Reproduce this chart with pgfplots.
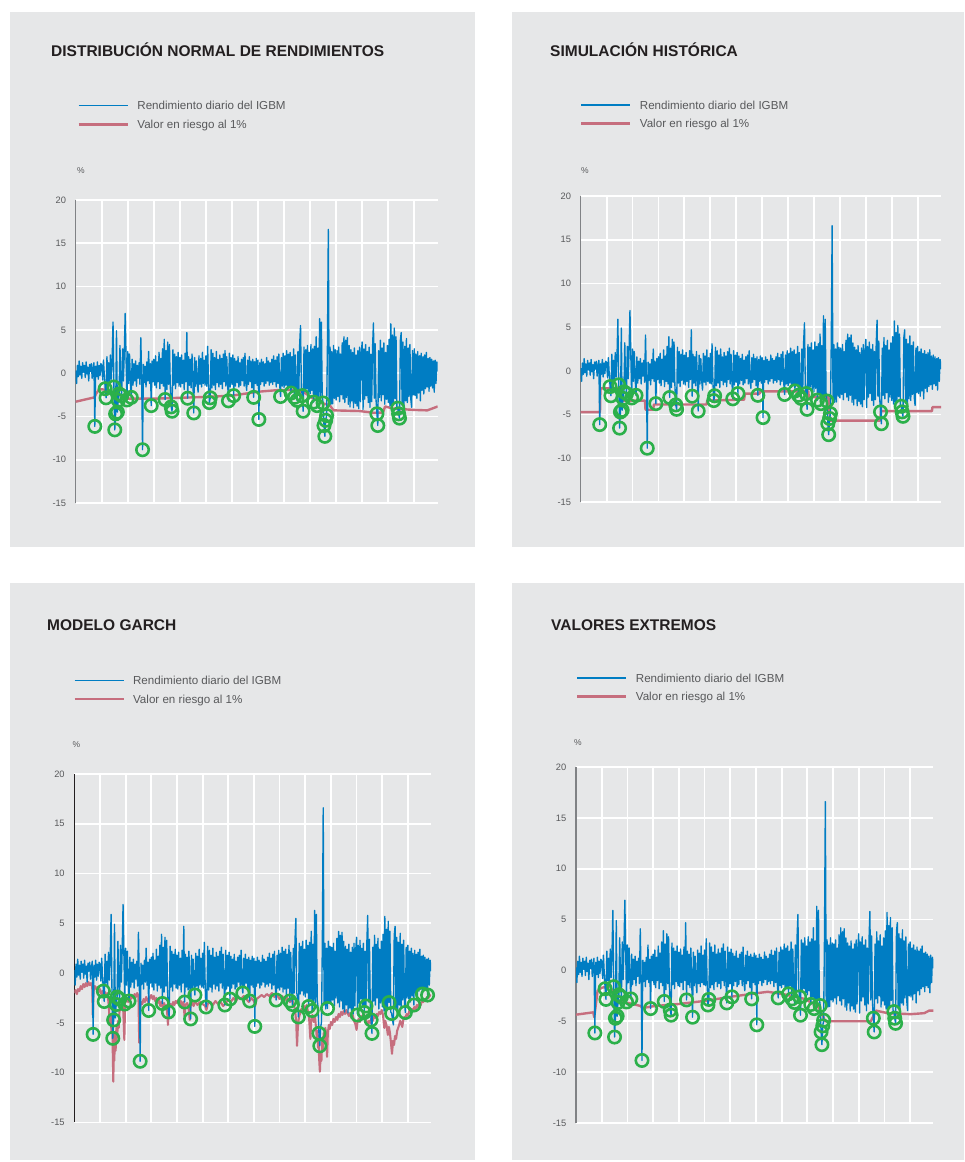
\documentclass[border=0pt]{standalone}
\usepackage{fontspec}
\setmainfont{Liberation Sans}
\usepackage{pgfplots}
\usepackage{pgfplotstable}
\pgfplotsset{compat=1.18}
\definecolor{bgpanel}{HTML}{E6E7E8}
\definecolor{ret}{RGB}{0,125,195}
\definecolor{varc}{RGB}{198,110,126}
\definecolor{exc}{RGB}{43,176,74}
\definecolor{titlec}{HTML}{231F20}
\definecolor{txtc}{HTML}{58595B}
\definecolor{axc}{HTML}{808285}

\pgfplotsset{
 panel/.style={
  scale only axis,
  xmin=0, xmax=13.9, ymin=-15, ymax=20,
  xtick={1,...,13}, xticklabels={},
  ytick={-15,-10,...,20},
  grid=major,
  major grid style={draw=white, line width=1.8pt},
  major tick length=0pt,
  axis y line*=left, axis x line*=bottom,
  x axis line style={draw=none},
  y axis line style={draw=axc, line width=1.5pt},
  yticklabel style={font=\fontsize{9.3}{11}\selectfont, text=txtc, inner sep=0pt, xshift=-9.5pt},
  /pgf/number format/assume math mode=true,
  title style={at={(rel axis cs:0,1)}, anchor=base west, inner sep=0pt, font=\fontsize{15.5}{18}\selectfont\bfseries, text=titlec},
  every axis y label/.style={at={(rel axis cs:0,1)}, anchor=center, font=\fontsize{8.5}{10}\selectfont, text=txtc},
  ylabel={\%},
  legend cell align=left,
  reverse legend,
  legend image code/.code={\draw[##1] (0pt,0pt) -- (49pt,0pt);},
  legend style={at={(rel axis cs:0,1)}, anchor=north west, draw=none, fill=none, inner sep=0pt, outer sep=0pt, row sep=10.3pt, font=\fontsize{11.6}{14}\selectfont, text=txtc, nodes={inner sep=0pt, text height=8.4pt, text depth=0pt}, /tikz/every odd column/.append style={column sep=8.5pt}},
 },
 retline/.style={ret, line width=1.35pt, line join=round, mark=none},
 excmarks/.style={only marks, mark=o, mark size=6.2pt, exc, mark options={line width=2.6pt}, forget plot},
}

\begin{document}
\pgfplotstableread[row sep=\\]{y\\
0.3\\ -1.2\\ 0.9\\ -0.4\\ 1.4\\ -0.2\\ 0.8\\ -0.6\\ 1.2\\ 0.1\\
0.9\\ -0.5\\ 1.3\\ -0.1\\ 0.7\\ -0.9\\ 1.0\\ 0.2\\ 1.1\\ -0.6\\
0.6\\ 1.2\\ -6.15\\ 0.8\\ -0.4\\ 1.3\\ -0.7\\ 0.9\\ -0.3\\ 1.1\\
0.9\\ -0.8\\ 1.5\\ -0.3\\ -1.8\\ -2.85\\ 1.9\\ -1.0\\ 1.2\\ -1.3\\
2.1\\ -0.7\\ 1.6\\ 5.9\\ -1.6\\ -6.55\\ -4.7\\ 4.9\\ -4.5\\ -3.15\\
-2.4\\ 3.2\\ -1.2\\ -2.6\\ 2.8\\ -0.9\\ 2.4\\ 6.9\\ 1.8\\ -3.1\\
2.5\\ -1.2\\ 2.2\\ -0.8\\ -2.8\\ 1.6\\ -1.4\\ 1.1\\ -0.9\\ 1.4\\
-1.5\\ 0.9\\ -0.6\\ 1.2\\ -1.3\\ 4.1\\ -0.7\\ -8.85\\ 1.0\\ -1.1\\
0.8\\ -1.6\\ 1.3\\ -0.9\\ 2.5\\ -1.2\\ 1.1\\ -3.75\\ 1.4\\ -1.0\\
1.6\\ -1.4\\ 2.0\\ -1.7\\ 1.3\\ -1.0\\ 2.4\\ -1.8\\ 1.7\\ -1.2\\
2.8\\ -1.5\\ 3.9\\ -3.05\\ 2.6\\ -1.9\\ 3.6\\ -1.3\\ 3.3\\ -1.6\\
-3.9\\ -4.4\\ 2.7\\ -1.4\\ 2.2\\ -1.8\\ 1.9\\ -1.1\\ 2.4\\ -1.5\\
1.8\\ -1.6\\ 2.1\\ -1.2\\ 1.5\\ -1.9\\ 2.3\\ -1.0\\ 4.7\\ -2.9\\
1.9\\ -1.4\\ 1.6\\ -1.7\\ 2.2\\ -0.9\\ -4.6\\ 1.8\\ -1.5\\ 1.4\\
-1.1\\ -2.2\\ 2.0\\ -1.3\\ 1.7\\ -1.6\\ 2.4\\ -1.2\\ 1.5\\ -1.4\\
2.0\\ -1.5\\ 3.1\\ -1.2\\ -3.4\\ -2.85\\ 2.7\\ -1.7\\ 2.3\\ -1.4\\
1.8\\ -1.9\\ 2.5\\ -1.1\\ 1.6\\ -1.6\\ 2.1\\ -1.3\\ 1.7\\ -1.8\\
2.2\\ -1.0\\ 2.6\\ -1.5\\ 1.9\\ -1.2\\ -3.2\\ 2.3\\ -1.6\\ 1.8\\
-1.3\\ 2.1\\ -2.6\\ 1.7\\ -1.5\\ 1.4\\ -1.1\\ 1.9\\ -1.6\\ 1.2\\
-1.4\\ 1.6\\ -0.9\\ 1.8\\ -1.5\\ 2.3\\ -1.2\\ -2.0\\ 1.5\\ -1.3\\
1.9\\ -1.0\\ 1.4\\ -1.7\\ 1.6\\ -2.8\\ 1.3\\ -1.2\\ 1.7\\ -1.4\\
1.5\\ -5.35\\ 1.2\\ -1.3\\ 1.6\\ -1.0\\ 1.3\\ -1.5\\ 1.1\\ -1.2\\
1.8\\ -0.9\\ 1.4\\ -1.4\\ 1.2\\ -1.1\\ 1.6\\ -1.3\\ 2.0\\ -1.0\\
1.5\\ -1.6\\ 1.9\\ -1.2\\ 2.2\\ -1.4\\ -2.7\\ 1.8\\ -1.5\\ 2.3\\
-1.7\\ 2.0\\ -1.4\\ 2.6\\ -1.9\\ 2.2\\ -1.6\\ 2.4\\ -2.3\\ 1.9\\
-1.5\\ 2.8\\ -2.8\\ 2.1\\ -1.8\\ -3.15\\ 2.5\\ -2.0\\ 3.3\\ 5.5\\
-1.9\\ -2.6\\ -4.4\\ 3.0\\ -2.1\\ 2.7\\ -1.8\\ 3.2\\ -2.2\\ 2.4\\
-2.4\\ 3.3\\ -2.0\\ 2.8\\ -3.35\\ 3.1\\ -2.6\\ 4.2\\ -3.75\\ 2.9\\
-2.8\\ 6.3\\ -3.0\\ 5.9\\ -2.7\\ -3.45\\ -6.05\\ -7.3\\ -5.45\\ -4.9\\
3.4\\ 16.6\\ -3.2\\ 3.0\\ -3.6\\ 2.5\\ -3.55\\ 3.2\\ -2.9\\ 2.7\\
-3.1\\ 2.6\\ -2.7\\ 3.0\\ -3.3\\ 2.2\\ -2.5\\ 3.5\\ -3.0\\ 4.2\\
-3.4\\ 3.8\\ -2.8\\ 4.1\\ -3.6\\ 3.2\\ -3.9\\ 2.7\\ -3.2\\ 2.4\\
-4.0\\ 2.9\\ -3.5\\ 2.1\\ -3.8\\ 2.6\\ -4.1\\ 3.0\\ -3.3\\ 2.3\\
3.6\\ -4.2\\ 2.8\\ -3.0\\ 3.3\\ -2.6\\ 2.5\\ -3.4\\ 3.0\\ -3.95\\
2.2\\ -3.3\\ 3.1\\ 5.8\\ -2.9\\ 3.4\\ -3.1\\ -4.7\\ -6.05\\ 2.6\\
-2.8\\ 3.8\\ -3.2\\ 2.9\\ -2.5\\ 3.5\\ -3.6\\ 2.4\\ -3.0\\ 3.2\\
-3.4\\ 3.9\\ -3.8\\ 5.7\\ -4.0\\ 4.4\\ -3.6\\ 5.2\\ -2.95\\ 4.2\\
-3.9\\ -4.05\\ -4.7\\ -5.2\\ 3.8\\ 4.7\\ -3.7\\ 3.6\\ -4.0\\ 3.1\\
-3.2\\ 4.0\\ -3.4\\ 2.9\\ -2.7\\ 3.3\\ -3.0\\ -3.95\\ 2.6\\ -2.5\\
2.8\\ -2.6\\ 2.2\\ -2.9\\ 2.5\\ -2.3\\ 2.0\\ -3.2\\ 2.3\\ -2.0\\
1.9\\ -2.4\\ 2.1\\ -1.8\\ 2.4\\ -1.6\\ 1.7\\ -2.1\\ 1.8\\ -1.5\\
1.6\\ -1.7\\ 1.4\\ -2.2\\ 1.5\\ -1.2\\ 1.3\\ 0.2\\
}\rettab

\pgfplotstableread{
i y
22 -6.15
34 -1.8
35 -2.85
44 -1.6
45 -6.55
46 -4.7
48 -4.5
49 -3.15
50 -2.4
53 -2.6
59 -3.1
64 -2.8
77 -8.85
87 -3.75
103 -3.05
110 -3.9
111 -4.4
129 -2.9
136 -4.6
154 -3.4
155 -2.85
176 -3.2
182 -2.6
205 -2.8
211 -5.35
236 -2.7
248 -2.3
252 -2.8
255 -3.15
261 -2.6
262 -4.4
274 -3.35
278 -3.75
285 -3.45
286 -6.05
287 -7.3
288 -5.45
289 -4.9
347 -4.7
348 -6.05
371 -4.05
372 -4.7
373 -5.2
}\exctab

\pgfplotstableread{
i y
22 -6.15
34 -1.8
35 -2.85
45 -6.55
46 -4.7
49 -3.15
50 -2.4
53 -2.6
59 -3.1
64 -2.8
77 -8.85
87 -3.75
103 -3.05
110 -3.9
129 -2.9
136 -4.6
141 -2.2
154 -3.4
176 -3.2
182 -2.6
197 -2.0
205 -2.8
211 -5.35
236 -2.7
252 -2.8
255 -3.15
262 -4.4
274 -3.35
278 -3.75
286 -6.05
287 -7.3
296 -3.55
331 -4.2
339 -3.95
341 -3.3
347 -4.7
348 -6.05
368 -2.95
371 -4.05
387 -3.95
397 -3.2
407 -2.1
413 -2.2
}\excgarch

\pgfplotstableread{
x y
0 -3.3
0.72 -2.8
0.78 -2.4
0.9 -1.85
1.1 -1.9
1.5 -2.3
2.0 -2.95
3.0 -2.95
4.0 -2.85
5.0 -2.75
6.0 -2.6
7.0 -2.15
7.8 -1.95
8.4 -1.95
8.8 -2.3
9.1 -2.9
9.5 -3.5
9.75 -3.7
9.9 -4.3
10.9 -4.38
11.45 -4.58
11.8 -4.55
11.88 -3.85
12.2 -4.1
13.0 -4.25
13.5 -4.3
13.9 -3.85
}\varnormal

\pgfplotstableread{
x y
0 -4.72
0.745 -4.72
0.76 -2.0
1.52 -2.0
1.55 -3.4
2.48 -3.4
2.5 -4.45
2.8 -4.45
2.82 -3.85
4.86 -3.85
4.88 -3.4
6.3 -3.3
6.34 -2.6
6.9 -2.6
6.92 -2.35
8.78 -2.35
8.8 -3.0
9.56 -3.0
9.62 -5.69
11.56 -5.69
11.58 -4.6
13.55 -4.6
13.57 -4.15
13.9 -4.15
}\varhist

\pgfplotstableread{
x y
0 -4.35
0.67 -4.12
0.71 -4.6
0.84 -2.0
1.0 -1.7
1.32 -1.55
1.58 -3.0
2.03 -3.2
2.52 -3.5
2.57 -3.7
3.07 -3.5
4.0 -3.3
5.0 -3.0
6.0 -2.6
7.0 -2.25
7.46 -2.1
8.1 -2.35
8.89 -2.8
9.4 -3.5
9.6 -4.45
9.69 -5.0
11.47 -5.0
11.67 -3.95
12.12 -4.2
13.03 -4.3
13.55 -4.2
13.74 -3.95
13.9 -3.95
}\varext

\pgfplotstableread{
x y
0.00 -2.0
0.05 -1.7
0.10 -2.1
0.15 -1.6
0.20 -1.8
0.25 -1.3
0.30 -1.6
0.35 -1.1
0.40 -1.4
0.45 -1.0
0.50 -1.3
0.55 -0.9
0.60 -1.2
0.65 -1.0
0.70 -1.4
0.72 -4.2
0.75 -1.8
0.80 -1.3
0.85 -1.6
0.90 -1.4
0.95 -1.9
1.00 -1.6
1.05 -2.1
1.10 -1.8
1.15 -2.3
1.20 -1.9
1.25 -2.4
1.30 -2.0
1.35 -3.5
1.38 -5.0
1.42 -4.2
1.45 -6.0
1.48 -5.0
1.50 -8.0
1.52 -10.9
1.54 -7.5
1.56 -8.8
1.58 -6.0
1.61 -7.8
1.64 -5.5
1.67 -6.5
1.70 -4.8
1.73 -5.5
1.76 -3.9
1.80 -3.4
1.85 -2.9
1.90 -3.2
1.95 -6.7
1.98 -3.0
2.05 -2.6
2.10 -2.9
2.15 -2.3
2.20 -2.6
2.25 -2.2
2.30 -2.5
2.35 -2.1
2.40 -2.4
2.45 -2.0
2.50 -2.3
2.53 -7.0
2.56 -3.5
2.60 -2.9
2.65 -3.1
2.70 -2.6
2.75 -2.9
2.80 -2.4
2.85 -2.7
2.90 -3.0
2.95 -2.4
3.00 -2.2
3.05 -2.6
3.10 -2.3
3.15 -2.8
3.20 -2.5
3.25 -3.0
3.30 -2.6
3.35 -3.3
3.40 -2.9
3.45 -3.5
3.50 -3.0
3.55 -3.6
3.60 -3.2
3.65 -5.2
3.68 -3.6
3.75 -3.1
3.80 -3.4
3.85 -2.9
3.90 -3.2
3.95 -2.8
4.00 -3.0
4.05 -2.7
4.10 -3.1
4.15 -2.8
4.20 -3.3
4.25 -2.9
4.30 -4.4
4.33 -3.2
4.40 -3.0
4.45 -3.4
4.50 -4.7
4.53 -3.3
4.60 -3.0
4.65 -3.3
4.70 -2.8
4.80 -3.2
4.90 -2.9
5.00 -3.1
5.10 -3.3
5.15 -3.7
5.20 -3.1
5.30 -2.9
5.40 -3.2
5.50 -2.8
5.60 -3.1
5.70 -2.9
5.80 -3.3
5.90 -3.0
6.00 -2.7
6.10 -2.9
6.20 -2.5
6.30 -2.8
6.40 -2.4
6.50 -2.6
6.60 -2.3
6.70 -2.6
6.80 -2.9
6.90 -2.5
7.00 -2.8
7.05 -3.3
7.10 -2.6
7.20 -2.4
7.30 -2.2
7.40 -2.4
7.50 -2.1
7.60 -2.3
7.70 -2.0
7.80 -2.4
7.90 -2.2
8.00 -2.6
8.10 -2.3
8.20 -2.7
8.30 -2.5
8.40 -2.9
8.50 -2.7
8.55 -3.2
8.60 -3.6
8.65 -5.0
8.68 -7.3
8.71 -5.5
8.75 -4.5
8.80 -4.0
8.85 -3.6
8.90 -3.9
8.95 -3.3
9.00 -3.6
9.05 -3.2
9.10 -3.8
9.15 -4.5
9.20 -6.6
9.23 -4.8
9.28 -4.2
9.33 -4.9
9.38 -4.4
9.42 -5.5
9.45 -6.5
9.48 -5.8
9.50 -7.5
9.52 -6.6
9.54 -8.5
9.57 -9.9
9.60 -8.0
9.63 -8.8
9.66 -6.5
9.69 -7.6
9.72 -6.0
9.75 -6.8
9.78 -5.5
9.82 -6.2
9.85 -8.4
9.88 -6.0
9.92 -5.2
9.96 -5.6
10.00 -4.9
10.05 -5.2
10.10 -4.6
10.15 -4.9
10.20 -4.4
10.25 -4.7
10.30 -4.1
10.35 -4.4
10.40 -3.9
10.45 -4.2
10.50 -3.8
10.55 -4.1
10.60 -3.7
10.65 -4.0
10.70 -4.3
10.75 -4.0
10.80 -4.5
10.85 -4.2
10.90 -4.8
10.95 -5.1
11.00 -5.7
11.03 -5.0
11.08 -4.6
11.13 -4.9
11.18 -4.3
11.23 -4.6
11.28 -4.1
11.33 -4.4
11.38 -4.8
11.43 -5.2
11.48 -4.8
11.53 -5.0
11.58 -4.5
11.63 -4.8
11.68 -4.3
11.73 -4.5
11.78 -4.1
11.83 -4.3
11.88 -3.9
11.93 -4.1
11.98 -3.7
12.03 -4.2
12.08 -5.5
12.12 -4.8
12.17 -5.3
12.22 -6.2
12.26 -5.4
12.30 -6.0
12.34 -7.0
12.38 -8.1
12.42 -6.8
12.46 -7.2
12.50 -6.3
12.54 -6.6
12.58 -5.8
12.62 -5.5
12.66 -5.2
12.70 -4.8
12.74 -5.0
12.78 -5.4
12.82 -4.7
12.86 -4.4
12.90 -4.6
12.95 -4.1
13.00 -4.3
13.05 -3.8
13.10 -4.0
13.15 -3.6
13.20 -3.8
13.25 -3.4
13.30 -3.6
13.35 -3.2
13.40 -3.4
13.45 -3.0
13.50 -3.2
13.55 -2.8
13.60 -2.9
13.65 -2.6
13.70 -2.7
13.75 -2.4
13.80 -2.5
13.85 -2.2
13.90 -2.3
}\vargarch

\begin{tikzpicture}[x=1pt,y=1pt]
\path (0pt,0pt) rectangle (964pt,1162pt);
\fill[bgpanel] (10pt,615pt) rectangle (475pt,1150pt);
\fill[bgpanel] (512pt,615pt) rectangle (964pt,1150pt);
\fill[bgpanel] (10pt,2pt) rectangle (475pt,579pt);
\fill[bgpanel] (512pt,2pt) rectangle (964pt,579pt);

% Panel 1
\begin{axis}[panel, at={(75.7pt,659pt)}, anchor=south west, width=362pt, height=303pt,
 title={DISTRIBUCIÓN NORMAL DE RENDIMIENTOS}, title style={xshift=-24.7pt, yshift=137.4pt},
 ylabel style={xshift=5.3pt, yshift=29pt},
 legend style={xshift=1.8pt, yshift=98.5pt}]
\addplot[varc, line width=2.4pt, line join=round, mark=none] table[x=x, y=y] {\varnormal};
\addlegendentry{Valor en riesgo al 1\%}
\addplot[retline] table[x expr=\coordindex/30, y=y] {\rettab};
\addlegendentry{Rendimiento diario del IGBM}
\addplot[excmarks] table[x expr=\thisrow{i}/30, y=y] {\exctab};
\end{axis}

% Panel 2
\begin{axis}[panel, at={(580.7pt,660pt)}, anchor=south west, width=360.3pt, height=306pt,
 title={SIMULACIÓN HISTÓRICA}, title style={xshift=-30.7pt, yshift=133.4pt},
 ylabel style={xshift=4.3pt, yshift=25pt},
 legend style={xshift=-0.7pt, yshift=95.2pt}]
\addplot[varc, line width=2.4pt, line join=round, mark=none] table[x=x, y=y] {\varhist};
\addlegendentry{Valor en riesgo al 1\%}
\addplot[retline] table[x expr=\coordindex/30, y=y] {\rettab};
\addlegendentry{Rendimiento diario del IGBM}
\addplot[excmarks] table[x expr=\thisrow{i}/30, y=y] {\exctab};
\end{axis}

% Panel 3
\begin{axis}[panel, at={(74.3pt,39.5pt)}, anchor=south west, width=356.7pt, height=348.5pt,
 title={MODELO GARCH}, title style={xshift=-27.3pt, yshift=137.4pt},
 ylabel style={xshift=2pt, yshift=29pt},
 y axis line style={draw=titlec},
 legend style={xshift=-0.8pt, yshift=97.7pt}]
\addplot[varc, line width=2.1pt, line join=round, mark=none] table[x=x, y=y] {\vargarch};
\addlegendentry{Valor en riesgo al 1\%}
\addplot[retline] table[x expr=\coordindex/30, y=y] {\rettab};
\addlegendentry{Rendimiento diario del IGBM}
\addplot[excmarks] table[x expr=\thisrow{i}/30, y=y] {\excgarch};
\end{axis}

% Panel 4
\begin{axis}[panel, at={(576pt,39pt)}, anchor=south west, width=357.3pt, height=356pt,
 title={VALORES EXTREMOS}, title style={xshift=-25pt, yshift=130.4pt},
 ylabel style={xshift=2pt, yshift=24pt},
 legend style={xshift=0pt, yshift=93.2pt}]
\addplot[varc, line width=2.4pt, line join=round, mark=none] table[x=x, y=y] {\varext};
\addlegendentry{Valor en riesgo al 1\%}
\addplot[retline] table[x expr=\coordindex/30, y=y] {\rettab};
\addlegendentry{Rendimiento diario del IGBM}
\addplot[excmarks] table[x expr=\thisrow{i}/30, y=y] {\exctab};
\end{axis}
\end{tikzpicture}
\end{document}
